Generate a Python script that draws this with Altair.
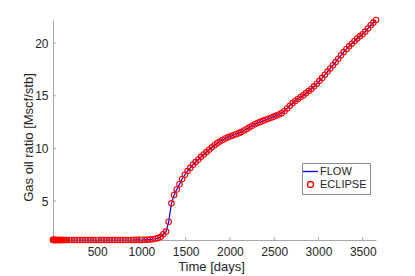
import altair as alt
import pandas as pd

# Report times [days]
time_days = [1, 8, 15, 22, 30, 38, 46, 54, 61, 69, 77, 85, 91, 100, 110, 122, 137, 152,
             183, 213, 243, 274, 304, 335, 365, 395, 426, 456, 487, 517, 548, 578, 608,
             639, 669, 700, 730, 760, 791, 821, 851, 882, 912, 943, 973, 1004, 1034, 1064,
             1095, 1126, 1156, 1186, 1217, 1247, 1278, 1308, 1339, 1369, 1399, 1430, 1460,
             1491, 1521, 1551, 1582, 1612, 1643, 1673, 1704, 1734, 1764, 1795, 1825, 1856,
             1886, 1916, 1947, 1977, 2008, 2038, 2068, 2099, 2129, 2160, 2190, 2220, 2251,
             2281, 2312, 2342, 2373, 2403, 2433, 2464, 2494, 2525, 2555, 2585, 2616, 2646,
             2677, 2707, 2738, 2768, 2798, 2829, 2859, 2890, 2920, 2951, 2981, 3011, 3042,
             3072, 3103, 3133, 3164, 3194, 3224, 3255, 3285, 3316, 3346, 3377, 3407, 3437,
             3468, 3498, 3529, 3559, 3590, 3620, 3650]

# ECLIPSE gas oil ratio [Mscf/stb]
eclipse_gor = [1.31, 1.31, 1.31, 1.30, 1.30, 1.30, 1.30, 1.30, 1.30, 1.30, 1.30, 1.30,
               1.30, 1.30, 1.30, 1.30, 1.30, 1.30,
               1.30, 1.30, 1.30, 1.30, 1.30, 1.30, 1.30, 1.30, 1.30, 1.30, 1.30, 1.30,
               1.30, 1.30, 1.30, 1.30, 1.30, 1.30, 1.30, 1.30, 1.30, 1.30, 1.30, 1.30,
               1.30, 1.31, 1.31, 1.31, 1.32, 1.33,
               1.34, 1.37, 1.42, 1.48, 1.60, 1.85, 2.10, 3.03, 4.78, 5.57, 6.10, 6.60, 7.10,
               7.50, 7.85, 8.15, 8.45, 8.70, 8.95, 9.20, 9.42, 9.65, 9.88, 10.10, 10.30, 10.50,
               10.65, 10.80, 10.95, 11.05, 11.15, 11.25, 11.35, 11.45, 11.55, 11.70, 11.85, 12.00, 12.15,
               12.30, 12.42, 12.52, 12.62, 12.72, 12.82, 12.92, 13.02, 13.12, 13.22, 13.35, 13.55, 13.80,
               14.05, 14.30, 14.50, 14.70, 14.88, 15.05, 15.25, 15.45, 15.65, 15.90, 16.15, 16.42, 16.70,
               17.00, 17.30, 17.60, 17.90, 18.20, 18.52, 18.85, 19.15, 19.45, 19.70, 19.95, 20.20, 20.45,
               20.65, 20.85, 21.10, 21.40, 21.70, 21.95, 22.20]

# FLOW gas oil ratio (visually identical to ECLIPSE)
flow_gor = list(eclipse_gor)

series_names = ["FLOW", "ECLIPSE"]
series_colors = ["#0000ff", "#ff0000"]
series_shapes = ["M-2.5,0L2.5,0", "circle"]

x_ticks = [500, 1000, 1500, 2000, 2500, 3000, 3500]
y_ticks = [5, 10, 15, 20]

flow_df = pd.DataFrame({"t": time_days, "gor": flow_gor})
ecl_df = pd.DataFrame({"t": time_days, "gor": eclipse_gor, "series": "ECLIPSE"})
xt_df = pd.DataFrame({"t": x_ticks})
yt_df = pd.DataFrame({"gor": y_ticks})

FONT = "Liberation Sans"
AX = "#a8a8a8"
TXT = "#262626"

x_scale = alt.Scale(nice=False, zero=False)
y_scale = alt.Scale(nice=False, zero=False)

x_axis = alt.Axis(values=x_ticks, format="d", title="Time [days]", grid=False, tickSize=0,
                  labelPadding=6, titlePadding=3, titleX=158, domainColor=AX, labelColor=TXT,
                  titleColor=TXT, labelFont=FONT, titleFont=FONT, labelFontSize=12,
                  titleFontSize=13, titleFontWeight="normal", labelFlush=False)
y_axis = alt.Axis(values=y_ticks, format="d", title="Gas oil ratio [Mscf/stb]", grid=False,
                  tickSize=0, labelPadding=5, titleX=-18, titleY=117, titleBaseline="bottom",
                  domainColor=AX, labelColor=TXT,
                  titleColor=TXT, labelFont=FONT, titleFont=FONT, labelFontSize=12,
                  titleFontSize=13, titleFontWeight="normal")

X = alt.X("t:Q", scale=x_scale, axis=x_axis, title="Time [days]")
Y = alt.Y("gor:Q", scale=y_scale, axis=y_axis, title="Gas oil ratio [Mscf/stb]")

leg = dict(title=None, orient="none", legendX=249, legendY=143,
           labelFont=FONT, labelFontSize=11, labelColor=TXT,
           symbolSize=36, symbolStrokeWidth=1.3,
           padding=3, labelOffset=4, rowPadding=1,
           strokeColor="#8c8c8c", fillColor="white")

line = alt.Chart(flow_df).mark_line(color="#0000ff", strokeWidth=1.2).encode(x=X, y=Y)

points = alt.Chart(ecl_df).mark_point(filled=False, size=30, strokeWidth=1.1, opacity=1).encode(
    x=X,
    y=Y,
    color=alt.Color("series:N", scale=alt.Scale(domain=series_names, range=series_colors),
                    legend=alt.Legend(**leg)),
    shape=alt.Shape("series:N", scale=alt.Scale(domain=series_names, range=series_shapes),
                    legend=alt.Legend(**leg)),
)

yticks = alt.Chart(yt_df).mark_rule(color=AX, strokeWidth=1).encode(
    y=Y, x=alt.value(0), x2=alt.value(3),
)
xticks = alt.Chart(xt_df).mark_rule(color=AX, strokeWidth=1).encode(
    x=X, y=alt.value(220), y2=alt.value(217),
)

chart = alt.layer(line, points, yticks, xticks).properties(
    width=323, height=220,
    autosize=alt.AutoSizeParams(type="none"),
    padding={"left": 45, "top": 12, "right": 30, "bottom": 34},
).configure(background="white").configure_view(stroke=None)

chart.save("out.html", embed_options={"renderer": "svg", "actions": False})
